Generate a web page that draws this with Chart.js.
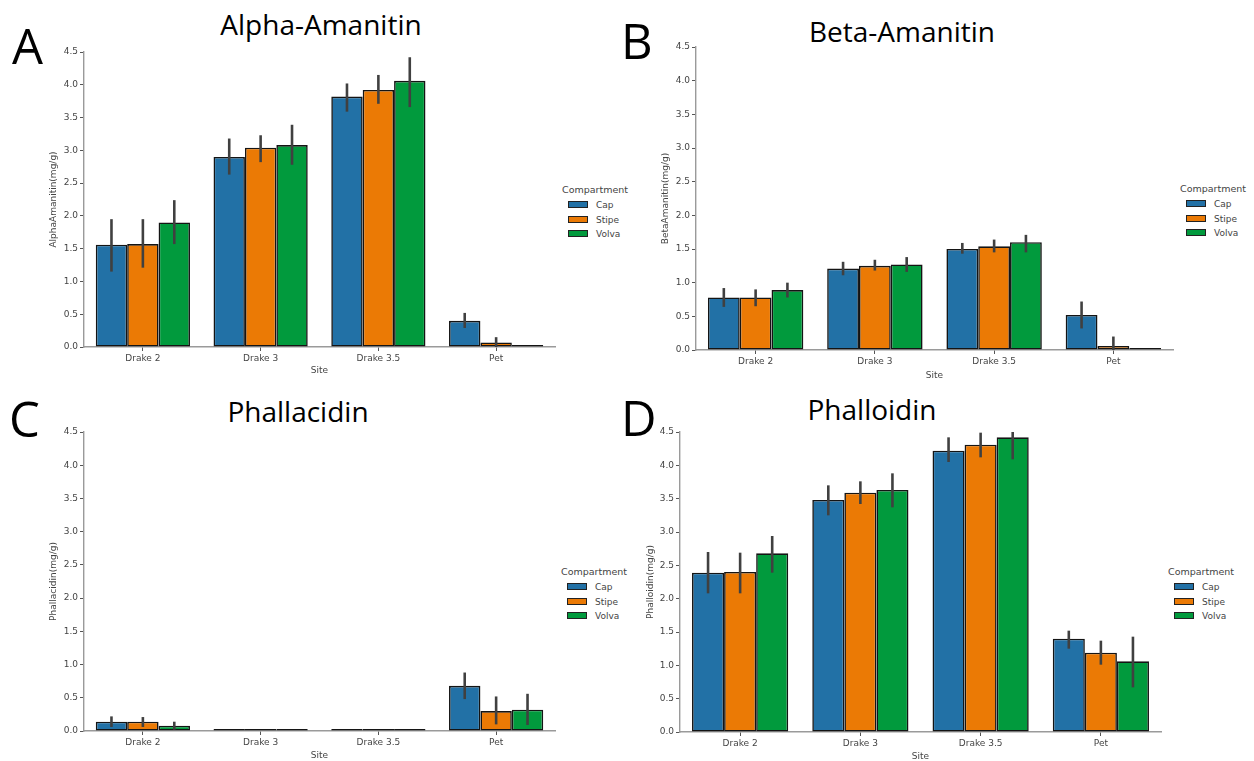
<!DOCTYPE html>
<html>
<head>
<meta charset="utf-8">
<script src="https://cdn.jsdelivr.net/npm/chart.js@4.4.1/dist/chart.umd.min.js"></script>
<style>
  html, body { margin: 0; padding: 0; background: #fff; width: 1254px; height: 761px; overflow: hidden; position: relative; }
  canvas { position: absolute; }
  .letter { position: absolute; font-family: "Open Sans", sans-serif; font-size: 49px; line-height: 49px; color: #000; }
  .title { position: absolute; width: 400px; text-align: center; font-family: "Open Sans", sans-serif; font-size: 28px; line-height: 28px; color: #000; }
  .lt, .ll { position: absolute; font-family: "DejaVu Sans", sans-serif; color: #444; line-height: 10px; white-space: nowrap; }
  .lt { font-size: 9.5px; }
  .ll { font-size: 9px; }
  .box { position: absolute; width: 18px; height: 5px; border: 1.5px solid #222; }
</style>
</head>
<body>

<div class="letter" style="left:12px; top:21px">A</div>
<div class="letter" style="left:621px; top:16px">B</div>
<div class="letter" style="left:9px; top:394px">C</div>
<div class="letter" style="left:621px; top:393px">D</div>

<div class="title" style="left:121px; top:10px">Alpha-Amanitin</div>
<div class="title" style="left:702px; top:17px">Beta-Amanitin</div>
<div class="title" style="left:98px; top:397px">Phallacidin</div>
<div class="title" style="left:672px; top:395px">Phalloidin</div>

<canvas id="chartA" width="512" height="332" style="left:48px; top:44px"></canvas>
<canvas id="chartB" width="518" height="342" style="left:660px; top:39px"></canvas>
<canvas id="chartC" width="512" height="337" style="left:48px; top:424px"></canvas>
<canvas id="chartD" width="521" height="338" style="left:645px; top:424px"></canvas>

<script>
// categories and series
const sites = ['Drake 2', 'Drake 3', 'Drake 3.5', 'Pet'];
const compartments = ['Cap', 'Stipe', 'Volva'];
const colors = ['#2271a6', '#eb7a05', '#019a3d'];

// A - Alpha-Amanitin (mean, ci low, ci high)
const alphaCap = [1.56, 2.90, 3.82, 0.40];
const alphaCapLo = [1.15, 2.63, 3.59, 0.29];
const alphaCapHi = [1.95, 3.18, 4.02, 0.52];
const alphaStipe = [1.57, 3.04, 3.92, 0.07];
const alphaStipeLo = [1.21, 2.82, 3.71, 0.00];
const alphaStipeHi = [1.95, 3.23, 4.15, 0.15];
const alphaVolva = [1.90, 3.08, 4.06, 0.005];
const alphaVolvaLo = [1.57, 2.78, 3.66, null];
const alphaVolvaHi = [2.24, 3.39, 4.42, null];

// B - Beta-Amanitin
const betaCap = [0.78, 1.21, 1.50, 0.52];
const betaCapLo = [0.64, 1.11, 1.43, 0.32];
const betaCapHi = [0.92, 1.31, 1.59, 0.72];
const betaStipe = [0.78, 1.25, 1.54, 0.06];
const betaStipeLo = [0.65, 1.18, 1.45, 0.00];
const betaStipeHi = [0.90, 1.34, 1.64, 0.20];
const betaVolva = [0.89, 1.27, 1.60, 0.005];
const betaVolvaLo = [0.78, 1.16, 1.45, null];
const betaVolvaHi = [1.00, 1.38, 1.71, null];

// C - Phallacidin
const phacCap = [0.14, 0.005, 0.005, 0.68];
const phacCapLo = [0.06, null, null, 0.48];
const phacCapHi = [0.22, null, null, 0.88];
const phacStipe = [0.14, 0.005, 0.005, 0.30];
const phacStipeLo = [0.06, null, null, 0.10];
const phacStipeHi = [0.21, null, null, 0.52];
const phacVolva = [0.08, 0.005, 0.005, 0.32];
const phacVolvaLo = [0.02, null, null, 0.09];
const phacVolvaHi = [0.14, null, null, 0.56];

// D - Phalloidin
const phalCap = [2.39, 3.48, 4.22, 1.40];
const phalCapLo = [2.08, 3.25, 4.05, 1.25];
const phalCapHi = [2.70, 3.70, 4.42, 1.52];
const phalStipe = [2.40, 3.59, 4.31, 1.19];
const phalStipeLo = [2.08, 3.42, 4.12, 1.01];
const phalStipeHi = [2.69, 3.76, 4.49, 1.37];
const phalVolva = [2.68, 3.63, 4.42, 1.06];
const phalVolvaLo = [2.39, 3.37, 4.09, 0.67];
const phalVolvaHi = [2.94, 3.88, 4.50, 1.43];

const yTicks = ['0.0', '0.5', '1.0', '1.5', '2.0', '2.5', '3.0', '3.5', '4.0', '4.5'];

const tickFont = { family: 'DejaVu Sans', size: 9 };

// draws the confidence intervals on top of the bars
const errorBars = {
    id: 'errorBars',
    afterDatasetsDraw(chart) {
        const ctx = chart.ctx;
        const yScale = chart.scales.y;
        chart.data.datasets.forEach(function(ds, i) {
            const meta = chart.getDatasetMeta(i);
            meta.data.forEach(function(bar, j) {
                if (ds.lo[j] == null) return;
                ctx.save();
                ctx.strokeStyle = '#404040';
                ctx.lineWidth = 2.6;
                ctx.beginPath();
                ctx.moveTo(bar.x, yScale.getPixelForValue(ds.lo[j]));
                ctx.lineTo(bar.x, yScale.getPixelForValue(ds.hi[j]));
                ctx.stroke();
                ctx.restore();
            });
        });
    }
};

const makePanel = function(id, yTitle, series, yW, xH) {
    const datasets = series.map(function(s, i) {
        return {
            label: compartments[i],
            data: s[0],
            lo: s[1],
            hi: s[2],
            backgroundColor: colors[i],
            borderColor: '#141414',
            borderWidth: 1.6,
            borderSkipped: false,
            minBarLength: 2,
            categoryPercentage: 0.8,
            barPercentage: 1.0
        };
    });
    new Chart(document.getElementById(id), {
        type: 'bar',
        data: { labels: sites, datasets: datasets },
        plugins: [errorBars],
        options: {
            responsive: false,
            animation: false,
            layout: { padding: { top: 8, right: 5, left: 0, bottom: 0 } },
            plugins: { legend: { display: false }, tooltip: { enabled: false } },
            scales: {
                x: {
                    offset: true,
                    grid: { display: true, drawOnChartArea: false, offset: false, tickLength: 4, color: '#555', lineWidth: 1 },
                    border: { color: '#9a9a9a', width: 1.4 },
                    ticks: { color: '#444', font: tickFont, padding: 2, autoSkip: false, maxRotation: 0 },
                    title: { display: true, text: 'Site', color: '#444', font: tickFont, padding: 0 },
                    afterFit: function(scale) { scale.height = xH; }
                },
                y: {
                    min: 0,
                    max: 4.5,
                    grid: { display: true, drawOnChartArea: false, tickLength: 4, color: '#555', lineWidth: 1 },
                    border: { color: '#9a9a9a', width: 1.4 },
                    ticks: {
                        stepSize: 0.5,
                        color: '#444',
                        font: tickFont,
                        padding: 2,
                        callback: function(v, idx) { return yTicks[idx]; }
                    },
                    title: { display: true, text: yTitle, color: '#444', font: tickFont, padding: 0 },
                    afterFit: function(scale) { scale.width = yW; }
                }
            }
        }
    });
}

// html legend with the Compartment title
const makeLegend = function(x, y) {
    let html = '<div class="lt" style="left:' + x + 'px; top:' + (y - 5) + 'px">Compartment</div>';
    const rows = [15, 29.5, 44];
    compartments.forEach(function(c, i) {
        html += '<div class="box" style="background:' + colors[i] + '; left:' + (x + 6) + 'px; top:' + (y + rows[i] - 4) + 'px"></div>';
        html += '<div class="ll" style="left:' + (x + 34) + 'px; top:' + (y + rows[i] - 5) + 'px">' + c + '</div>';
    });
    document.body.insertAdjacentHTML('beforeend', html);
}

makePanel('chartA', 'AlphaAmanitin(mg/g)',
    [[alphaCap, alphaCapLo, alphaCapHi], [alphaStipe, alphaStipeLo, alphaStipeHi], [alphaVolva, alphaVolvaLo, alphaVolvaHi]], 36, 29);
makePanel('chartB', 'BetaAmanitin(mg/g)',
    [[betaCap, betaCapLo, betaCapHi], [betaStipe, betaStipeLo, betaStipeHi], [betaVolva, betaVolvaLo, betaVolvaHi]], 36, 31);
makePanel('chartC', 'Phallacidin(mg/g)',
    [[phacCap, phacCapLo, phacCapHi], [phacStipe, phacStipeLo, phacStipeHi], [phacVolva, phacVolvaLo, phacVolvaHi]], 36, 30);
makePanel('chartD', 'Phalloidin(mg/g)',
    [[phalCap, phalCapLo, phalCapHi], [phalStipe, phalStipeLo, phalStipeHi], [phalVolva, phalVolvaLo, phalVolvaHi]], 35, 30);

makeLegend(562, 190);
makeLegend(1180, 189);
makeLegend(561, 572);
makeLegend(1168, 572);
</script>
</body>
</html>
